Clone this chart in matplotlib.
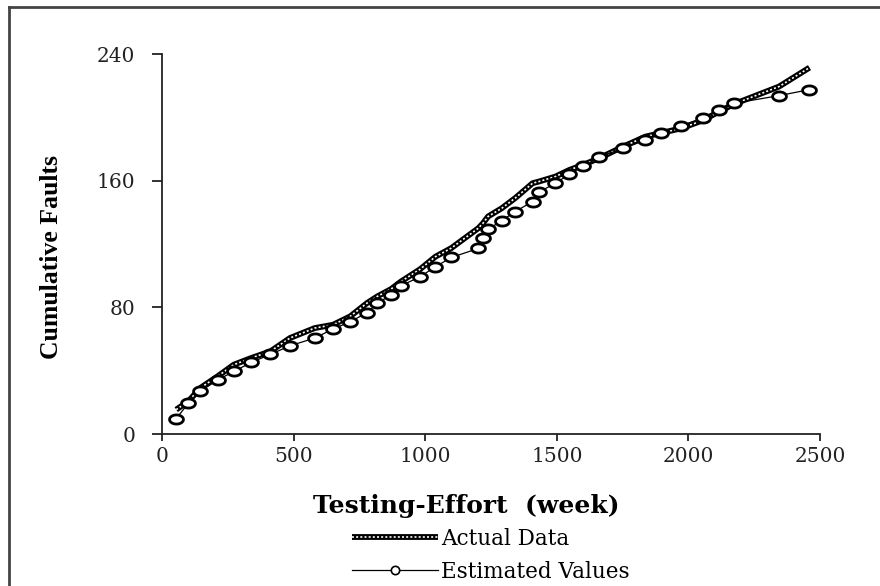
import numpy as np
import matplotlib
matplotlib.use("Agg")
import matplotlib.pyplot as plt
from matplotlib.lines import Line2D
from matplotlib.path import Path
from matplotlib.legend_handler import HandlerTuple

# 累计测试工作量 (week) 与累计故障数
effort = [54, 100, 145, 211, 273, 339, 412, 486, 580, 650, 715, 779, 818, 870,
          908, 980, 1039, 1099, 1202, 1219, 1239, 1291, 1342, 1408, 1431, 1495,
          1548, 1600, 1661, 1752, 1836, 1894, 1971, 2054, 2116, 2175, 2344, 2460]
actual = [15.4, 20.6, 29, 36.4, 43.8, 48, 52.2, 60.6, 66.9, 69, 74.3, 82.7,
          86.9, 91.5, 96.3, 104, 112, 117.4, 130, 133, 137.4, 142.6, 149, 158.4,
          159.4, 162.6, 166.8, 170, 174.2, 181.5, 187.8, 190, 193, 198, 203.6,
          208.5, 219.4, 231.4]
estimated = [9.7, 19.4, 26.9, 34.1, 39.5, 45.2, 50.3, 55.7, 60.6, 66.3, 70.9,
             76.6, 82.5, 87.9, 93.6, 99.3, 105.6, 111.5, 117.2, 123.5, 129.2,
             134.8, 140.5, 146.8, 152.7, 158.4, 164.1, 169.1, 174.8, 180.5,
             185.5, 190.2, 194.6, 199.4, 204.5, 208.9, 213.7, 217.5]
xticks = [0, 500, 1000, 1500, 2000, 2500]
yticks = [0, 80, 160, 240]

# 椭圆形空心标记
t = np.linspace(0, 2 * np.pi, 40)
ellipse = Path(np.column_stack([np.cos(t), 0.66 * np.sin(t)]), closed=True)

fig = plt.figure(figsize=(8.8, 5.86), dpi=100)
ax = fig.add_axes([162 / 880, 1 - 434 / 586, 658 / 880, 380 / 586])

# 外框(上边和左边)
fig.add_artist(Line2D([9 / 880, 1.0], [1 - 6.5 / 586] * 2, color='#444444', lw=2))
fig.add_artist(Line2D([9 / 880] * 2, [0, 1 - 6.5 / 586], color='#444444', lw=2))

l1, = ax.plot(effort, actual, color='black', lw=4.2, solid_capstyle='butt', zorder=2)
l2, = ax.plot(effort, actual, color='white', lw=1.2, dashes=(1.2, 1.3), zorder=2.1)
ax.plot(effort, estimated, color='black', lw=0.9, marker=ellipse, markersize=10,
        markerfacecolor='white', markeredgecolor='black', markeredgewidth=2, zorder=3)

ax.set_xlim(0, 2500)
ax.set_ylim(0, 240)
ax.set_xticks(xticks)
ax.set_yticks(yticks)
for s in ['top', 'right']:
    ax.spines[s].set_visible(False)
for s in ['left', 'bottom']:
    ax.spines[s].set_color('#222222')
    ax.spines[s].set_linewidth(1.3)
ax.tick_params(axis='x', direction='out', length=5, width=1.3, color='#222222',
               pad=4, labelsize=14.5, labelcolor='#222222')
ax.tick_params(axis='y', direction='out', length=7.2, width=1.3, color='#222222',
               pad=12, labelsize=14.5, labelcolor='#222222')
for lab in ax.get_xticklabels() + ax.get_yticklabels():
    lab.set_family('DejaVu Serif')

fig.text(466 / 880, 1 - 506 / 586, 'Testing-Effort  (week)', ha='center', va='center',
         family='DejaVu Serif', fontweight='bold', fontsize=18)
fig.text(52 / 880, 1 - 257 / 586, 'Cumulative Faults', ha='center', va='center',
         rotation=90, family='Liberation Serif', fontweight='bold', fontsize=18.5)

est_handle = Line2D([], [], color='black', lw=0.9, marker='o', markersize=6,
                    markerfacecolor='white', markeredgecolor='black', markeredgewidth=1.2)
fig.legend([(l1, l2), est_handle], ['Actual Data', 'Estimated Values'],
           loc='upper left', bbox_to_anchor=(352 / 880, 1 - 528 / 586),
           frameon=False, borderpad=0, borderaxespad=0, handlelength=4.0,
           handletextpad=0.15, labelspacing=0.5,
           prop={'family': 'DejaVu Serif', 'size': 15.5},
           handler_map={tuple: HandlerTuple(ndivide=1)})

fig.savefig('out.png', dpi=100)
